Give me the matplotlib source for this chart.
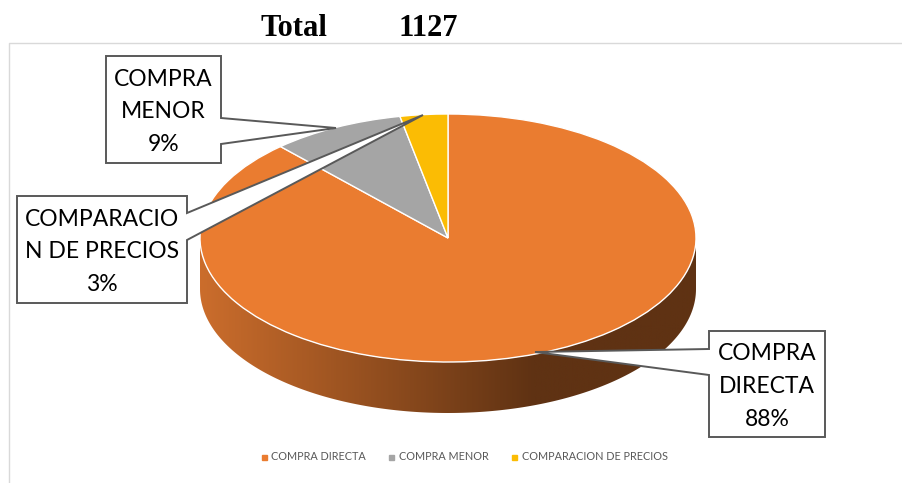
import numpy as np
import matplotlib
matplotlib.use("Agg")
import matplotlib.pyplot as plt
from matplotlib.colors import LinearSegmentedColormap
from matplotlib.lines import Line2D
from matplotlib.patches import Polygon, PathPatch
from matplotlib.path import Path

categories = ["COMPRA DIRECTA", "COMPRA MENOR", "COMPARACION DE PRECIOS"]
values = [994, 98, 35]
label_lines = [["COMPRA", "DIRECTA"], ["COMPRA", "MENOR"], ["COMPARACIO", "N DE PRECIOS"]]
colors = ["#EA7C30", "#A5A5A5", "#FBBC04"]
total_label = "Total"
total_value = "1127"

W, H = 902, 483
fig = plt.figure(figsize=(W / 100, H / 100), dpi=100, facecolor="white")

# background axes in pixel coordinates
bg = fig.add_axes([0, 0, 1, 1], zorder=0)
bg.set_xlim(0, W); bg.set_ylim(H, 0); bg.axis("off")
bg.plot([9, 9, W + 5], [H + 5, 43, 43], color="#D9D9D9", lw=1.0, clip_on=False)

cx, cy, rx, ry, depth = 448, 238, 248, 124, 51

# extruded side with horizontal gradient
t = np.linspace(0, np.pi, 200)
xa = cx + rx * np.cos(t)
ya = cy + ry * np.sin(t)
verts = np.r_[np.c_[xa, ya], np.c_[xa[::-1], ya[::-1] + depth], [[xa[0], ya[0]]]]
codes = [Path.MOVETO] + [Path.LINETO] * (len(verts) - 2) + [Path.CLOSEPOLY]
clip = PathPatch(Path(verts, codes), transform=bg.transData, fc="none", ec="none")
bg.add_patch(clip)
cmap = LinearSegmentedColormap.from_list("side", ["#CB6D2C", "#5F3213"])
grad = np.clip((np.linspace(cx - rx, cx + rx, 500) - (cx - rx)) / 335, 0, 1)[None, :]
im = bg.imshow(grad, cmap=cmap, vmin=0, vmax=1, aspect="auto",
               extent=[cx - rx, cx + rx, cy + ry + depth, cy], zorder=1)
im.set_clip_path(clip)
bg.set_xlim(0, W); bg.set_ylim(H, 0)

# top face: pie squashed to an ellipse
m = 1.02
left = (cx - rx * m) / W
bottom = 1 - (cy + ry * m) / H
pie_ax = fig.add_axes([left, bottom, 2 * rx * m / W, 2 * ry * m / H], zorder=1)
wedges, _ = pie_ax.pie(values, colors=colors, startangle=90, counterclock=False,
                       wedgeprops=dict(edgecolor="white", linewidth=1.0))
pie_ax.set_aspect("auto")
pie_ax.set_xlim(-m, m); pie_ax.set_ylim(-m, m)
pie_ax.patch.set_alpha(0)

# callouts
ov = fig.add_axes([0, 0, 1, 1], zorder=2)
ov.set_xlim(0, W); ov.set_ylim(H, 0); ov.axis("off")
edge = "#595959"
callouts = [
    dict(i=0, box=(709, 825, 331, 437),
         tail=[(709, 349), (535, 352), (709, 375)]),
    dict(i=1, box=(106, 221, 56, 163),
         tail=[(221, 118), (336, 128), (221, 144)]),
    dict(i=2, box=(17, 187, 196, 303),
         tail=[(187, 213), (423, 115), (187, 240)]),
]
pct = np.array(values) / sum(values) * 100
for c in callouts:
    l, r, t_, b = c["box"]
    (ax_, ay_), tip, (bx_, by_) = c["tail"]
    if ax_ == l:   # tail leaves from the left edge
        pts = [(l, t_), (r, t_), (r, b), (l, b), (bx_, by_), tip, (ax_, ay_)]
    else:          # tail leaves from the right edge
        pts = [(l, t_), (r, t_), (ax_, ay_), tip, (bx_, by_), (r, b), (l, b)]
    ov.add_patch(Polygon(pts, closed=True, fc="white", ec=edge, lw=1.4, joinstyle="miter"))
    lines = label_lines[c["i"]] + [f"{pct[c['i']]:.0f}%"]
    ym = (t_ + b) / 2 + 2.5
    for k, s in enumerate(lines):
        ov.text((l + r) / 2, ym + (k - 1) * 32.5, s, ha="center", va="center",
                family="Lato", fontsize=16.5, color="#000000")

# title row
ov.text(293.5, 36, total_label, family="Liberation Serif", weight="bold", fontsize=22,
        ha="center", va="baseline", color="black")
ov.text(428, 36, total_value, family="Liberation Serif", weight="bold", fontsize=22,
        ha="center", va="baseline", color="black")

# legend
handles = [Line2D([], [], ls="", marker="s", ms=3.6, color=col) for col in colors]
leg = ov.legend(handles, categories, ncol=3, loc="center", frameon=False,
                bbox_to_anchor=(463 / W, 1 - 457 / H), bbox_transform=fig.transFigure,
                prop=dict(family="Lato", size=7.8), labelcolor="#595959",
                handletextpad=0.2, columnspacing=1.85, handlelength=1.0)

fig.savefig("out.png", dpi=100)
